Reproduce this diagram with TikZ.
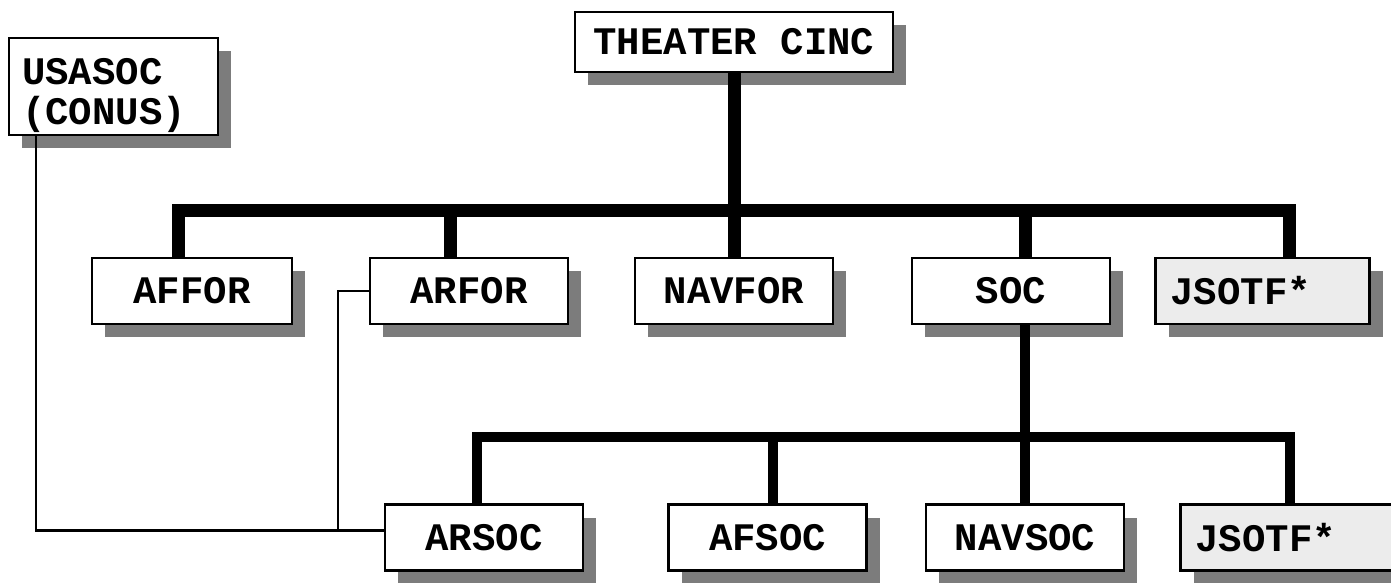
\documentclass[tikz,border=0pt]{standalone}
\usepackage{fontspec}
\setmonofont{Liberation Mono}
\usetikzlibrary{shadows}
\definecolor{shadowgrey}{HTML}{7C7C7C}
\definecolor{jointgrey}{HTML}{ECECEC}

\begin{document}
\begin{tikzpicture}[
  x=0.5pt, y=-0.5pt,
  font=\ttfamily\bfseries\fontsize{19.5}{20}\selectfont,
  unit/.style={draw, line width=1.3pt, fill=white, inner sep=0pt,
    minimum width=99pt, minimum height=33pt,
    drop shadow={shadow xshift=6.5pt, shadow yshift=-6.5pt,
      fill=shadowgrey, opacity=1}},
  jointunit/.style={unit, fill=jointgrey, align=left,
    text width=92pt, inner xsep=7.5pt},
  bus/.style={line width=6.5pt},
  subbus/.style={line width=5pt},
  link/.style={line width=1.2pt}
]
\useasboundingbox (0,0) rectangle (1391,583);

\node[unit, minimum width=159pt, minimum height=30pt] (cinc) at (734,42) {THEATER CINC};
\node[unit, minimum width=104.5pt, minimum height=48.5pt, align=left,
  text width=91.5pt, inner xsep=6.5pt] (usasoc) at (113.5,86.5)
  {\rule{0pt}{22pt}USASOC\\(CONUS)};

\node[unit, minimum width=100pt] (affor) at (192,291) {AFFOR};
\node[unit] (arfor) at (469,291) {ARFOR};
\node[unit] (navfor) at (734,291) {NAVFOR};
\node[unit] (soc) at (1011,291) {SOC};
\node[jointunit] (jsotfa) at (1262.5,291) {JSOTF*};

\node[unit] (arsoc) at (484,537.5) {ARSOC};
\node[unit] (afsoc) at (767.5,537.5) {AFSOC};
\node[unit] (navsoc) at (1025,537.5) {NAVSOC};
\node[jointunit] (jsotfb) at (1287.5,537.5) {JSOTF*};

\coordinate (hub) at (734,210);
\coordinate (subhub) at (1025,437);
\coordinate (join) at (338,530);

% command line
\draw[bus] (cinc) -- (navfor);
\draw[bus] ([xshift=-7pt]affor.north) |- (hub) -| ([xshift=13.25pt]jsotfa.north);
\draw[bus] ([xshift=-9.5pt]arfor.north) -- ([xshift=-9.5pt]arfor.north |- hub);
\draw[bus] (soc.north -| navsoc) -- (hub -| navsoc);

\draw[subbus] (soc.south -| navsoc) -- (navsoc);
\draw[subbus] ([xshift=-3.5pt]arsoc.north) |- (subhub) -| ([xshift=1.25pt]jsotfb.north);
\draw[subbus] ([xshift=2.75pt]afsoc.north) -- ([xshift=2.75pt]afsoc.north |- subhub);

% support links
\draw[link] ([xshift=-38.75pt]usasoc.south) |- ([yshift=3.5pt]arsoc.west);
\draw[link] (arfor.west) -| (join);

\end{tikzpicture}
\end{document}
